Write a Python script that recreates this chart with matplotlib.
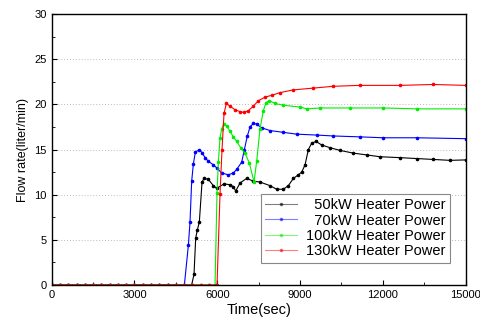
import matplotlib
matplotlib.use("Agg")
import matplotlib.pyplot as plt
from matplotlib.ticker import MultipleLocator

plt.rcParams['font.family'] = ['Liberation Sans', 'DejaVu Sans']

zero_t = [0, 300, 600, 900, 1200, 1500, 1800, 2100, 2400, 2700, 3000, 3300,
          3600, 3900, 4200, 4500]

t50 = zero_t + [4800, 5070, 5157, 5217, 5278, 5350, 5447, 5519, 5676, 5857, 5978,
                6244, 6461, 6582, 6667, 6824, 7065, 7306, 7548, 7910, 8152, 8394,
                8575, 8756, 8937, 9058, 9179, 9300, 9420, 9577, 9783, 10085, 10447,
                10930, 11413, 11896, 12621, 13225, 13829, 14432, 15000]
v50 = [0] * len(zero_t) + [0, 0, 1.2, 5.2, 6.1, 7.0, 11.4, 11.8, 11.7, 11.0, 10.7,
                           11.2, 11.1, 10.9, 10.4, 11.3, 11.8, 11.5, 11.4, 11.0, 10.6, 10.6,
                           11.0, 11.8, 12.2, 12.5, 13.3, 15.0, 15.7, 15.9, 15.5, 15.2, 14.9,
                           14.6, 14.4, 14.2, 14.1, 14.0, 13.9, 13.8, 13.85]

t70 = zero_t + [4807, 4952, 5012, 5072, 5133, 5205, 5350, 5459, 5556, 5676, 5857,
                6002, 6159, 6401, 6582, 6703, 6884, 6981, 7089, 7186, 7306, 7427,
                7609, 7910, 8394, 8877, 9601, 10205, 11171, 12017, 13225, 15000]
v70 = [0] * len(zero_t) + [0, 4.4, 7.0, 11.5, 13.4, 14.7, 15.0, 14.6, 14.1, 13.7, 13.3,
                           12.9, 12.4, 12.2, 12.4, 12.8, 13.6, 15.0, 16.5, 17.5, 17.9, 17.8,
                           17.4, 17.1, 16.9, 16.7, 16.6, 16.5, 16.4, 16.3, 16.3, 16.2]

t100 = zero_t + [4800, 5100, 5400, 5700, 5918, 5990, 6039, 6099, 6159, 6232, 6341,
                 6461, 6582, 6703, 6848, 7005, 7162, 7331, 7427, 7548, 7669, 7766,
                 7886, 8092, 8394, 8998, 9239, 9722, 10809, 12017, 13225, 15000]
v100 = [0] * len(zero_t) + [0, 0, 0, 0, 0, 10.2, 13.6, 16.3, 17.3, 17.8, 17.6,
                            17.0, 16.4, 15.9, 15.2, 14.6, 13.5, 11.4, 13.7, 17.3, 19.3, 20.2,
                            20.4, 20.1, 19.9, 19.7, 19.5, 19.6, 19.6, 19.6, 19.5, 19.5]

t130 = zero_t + [4800, 5100, 5400, 5700, 5990, 6099, 6171, 6244, 6329, 6461, 6643,
                 6824, 6969, 7126, 7306, 7488, 7729, 7971, 8273, 8756, 9481, 10205,
                 11171, 12621, 13829, 15000]
v130 = [0] * len(zero_t) + [0, 0, 0, 0, 0, 10.1, 15.0, 19.0, 20.1, 19.8, 19.4,
                            19.2, 19.1, 19.3, 19.8, 20.4, 20.8, 21.0, 21.3, 21.6, 21.8, 22.0,
                            22.1, 22.1, 22.2, 22.1]

series = [
    (t50, v50, 'black', '  50kW Heater Power'),
    (t70, v70, 'blue', '  70kW Heater Power'),
    (t100, v100, '#00ee00', '100kW Heater Power'),
    (t130, v130, 'red', '130kW Heater Power'),
]

fig = plt.figure(figsize=(4.8, 3.23), dpi=100)
ax = fig.add_axes([0.1077, 0.1176, 0.8625, 0.839])

for t, v, c, lab in series:
    ax.plot(t, v, color=c, lw=0.8, marker='o', ms=1.6, mec=c, mfc=c, label=lab)

ax.set_xlim(0, 15000)
ax.set_ylim(0, 30)
ax.set_xticks([0, 3000, 6000, 9000, 12000, 15000])
ax.set_yticks([0, 5, 10, 15, 20, 25, 30])
ax.xaxis.set_minor_locator(MultipleLocator(1500))
ax.yaxis.set_minor_locator(MultipleLocator(2.5))
ax.tick_params(which='both', direction='in', top=False, right=False, labelsize=8)
ax.tick_params(which='major', length=3.5, width=0.8)
ax.tick_params(which='minor', length=2, width=0.6)
for y in [5, 10, 15, 20, 25]:
    ax.axhline(y, color='#bbbbbb', lw=0.7, ls=(0, (1, 2)), zorder=0)
for s in ax.spines.values():
    s.set_linewidth(1.0)

ax.set_xlabel('Time(sec)', fontsize=10.5, labelpad=2)
ax.set_ylabel('Flow rate(liter/min)', fontsize=9, labelpad=4)

leg = ax.legend(loc='lower right', bbox_to_anchor=(0.962, 0.082), borderaxespad=0,
                fontsize=10.5, handlelength=2.2, numpoints=1, fancybox=False,
                edgecolor='#888888', framealpha=1, labelspacing=0.1,
                borderpad=0.3, handletextpad=0.6)
leg.get_frame().set_linewidth(0.8)
for line in leg.get_lines():
    line.set_alpha(0.5)

fig.savefig('out.png', dpi=100)
